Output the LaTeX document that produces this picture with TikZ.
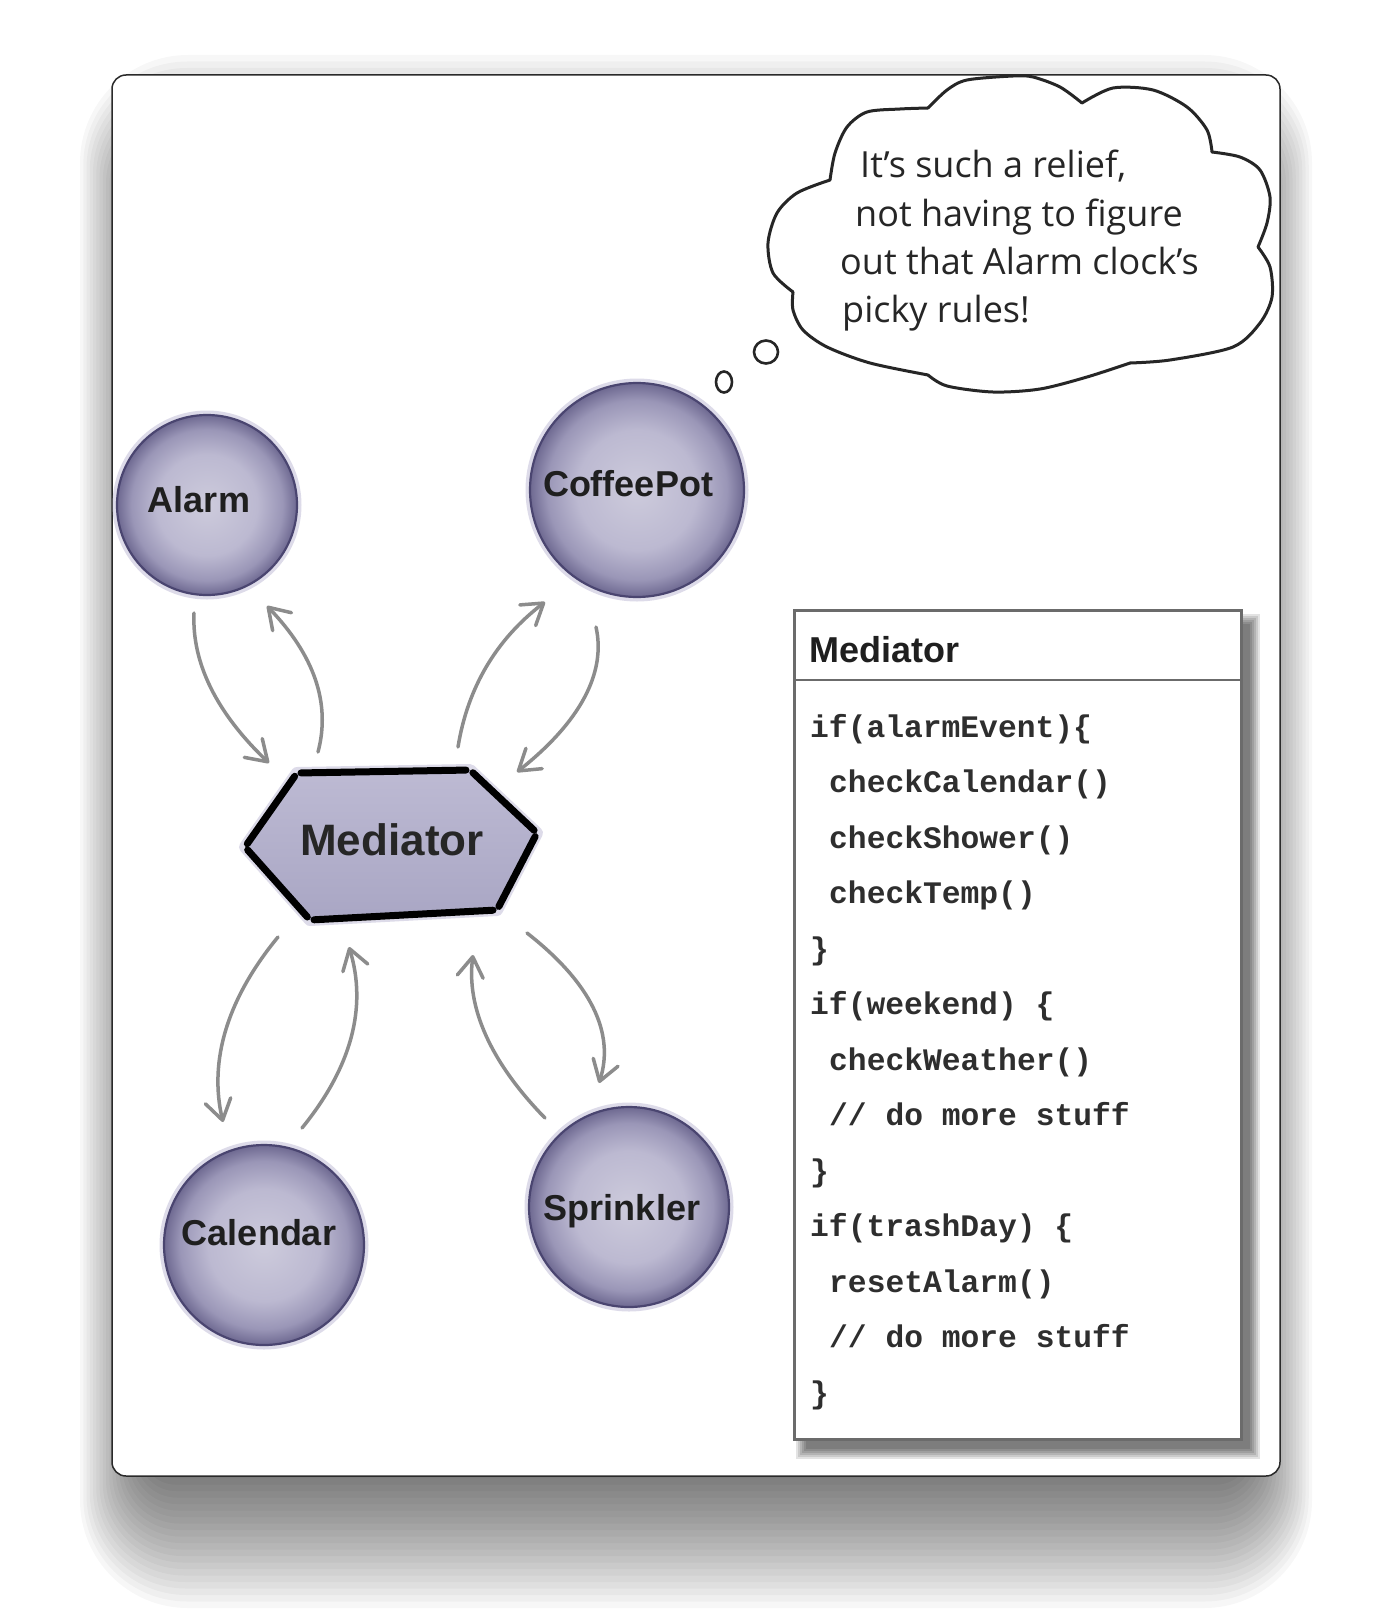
\documentclass[tikz,border=0pt]{standalone}
\usepackage{fontspec}
\setmainfont{Liberation Sans}
\newfontfamily\monof{Liberation Mono}
\newfontfamily\cloudf{Open Sans}
\usetikzlibrary{arrows.meta,calc}
\definecolor{lavC}{HTML}{CDCBDC}
\definecolor{lavM}{HTML}{BCB9D1}
\definecolor{lavE}{HTML}{9A96B7}
\definecolor{lavO}{HTML}{6E6991}
\definecolor{orbline}{HTML}{4A4570}
\definecolor{halo}{HTML}{CFCCE0}
\definecolor{hexT}{HTML}{BDBAD3}
\definecolor{hexB}{HTML}{A9A6C4}
\definecolor{arrgray}{HTML}{8C8C8C}
\definecolor{boxgray}{HTML}{6B6B6B}
\definecolor{framec}{HTML}{2A2A2A}
\definecolor{codec}{HTML}{2E2E2E}
\pgfdeclareradialshading{lavorb}{\pgfpoint{0bp}{0bp}}{color(0bp)=(lavC); color(14bp)=(lavM); color(21bp)=(lavE); color(25bp)=(lavO); color(50bp)=(lavO)}
\tikzset{
  orb/.style={circle, minimum size=#1, inner sep=0pt, shading=lavorb, draw=orbline, line width=2.2pt,
              preaction={draw=halo, line width=9pt, opacity=0.7}},
  orblabel/.style={font=\bfseries\fontsize{36}{40}\selectfont, text=black!88, inner sep=0pt, anchor=base},
  arr/.style={draw=arrgray, line width=3.5pt, line cap=round,
              -{Straight Barb[length=20pt,width=26pt,line width=3.5pt,round]}},
  cloudline/.style={draw=black!85, line width=3pt, line cap=round, line join=round},
  cloudtext/.style={font=\cloudf\fontsize{36}{40}\selectfont, text=black!85, inner sep=0pt, anchor=base west},
  code/.style={font=\monof\bfseries\fontsize{31.3}{36}\selectfont, text=codec, inner sep=0pt, anchor=base west},
  hexedge/.style={draw=black, line width=7pt, line cap=round, shorten <=4pt, shorten >=4pt}
}
\begin{document}
\begin{tikzpicture}[x=1pt,y=-1pt]
\useasboundingbox (0,0) rectangle (1392,1624);
\fill[white] (0,0) rectangle (1392,1624);
% frame shadow
\foreach \e [evaluate=\e as \rc using 30+0.6*\e, evaluate=\e as \h using 0.5*\e] in {0,6.5,...,130}
  \fill[black,opacity=0.03,rounded corners=\rc pt] ({145-\h},{185-\e}) rectangle ({1247+\h},{1478+\e});
% frame
\draw[draw=framec, line width=1.5pt, fill=white, rounded corners=14pt] (112,75) rectangle (1280,1476);

% ---------- thought cloud ----------
\draw[cloudline] plot[smooth] coordinates {(830,180) (835,153) (847,127) (867,112) (900,109) (928,108)};
\draw[cloudline] plot[smooth] coordinates {(928,108) (947,90) (967,80) (1013,76) (1033,77) (1060,87) (1082,103)};
\draw[cloudline] plot[smooth] coordinates {(1082,103) (1113,88) (1153,90) (1187,107) (1207,130) (1212,152)};
\draw[cloudline] plot[smooth] coordinates {(1212,152) (1240,157) (1260,170) (1270,197) (1267,223) (1258,247)};
\draw[cloudline] plot[smooth] coordinates {(1258,247) (1270,267) (1272,297) (1260,323) (1233,347) (1170,360) (1130,363)};
\draw[cloudline] plot[smooth] coordinates {(1130,363) (1087,377) (1040,389) (993,392) (947,386) (928,375)};
\draw[cloudline] plot[smooth] coordinates {(928,375) (870,363) (827,347) (803,330) (793,310) (793,292)};
\draw[cloudline] plot[smooth] coordinates {(793,292) (773,273) (768,243) (777,213) (797,193) (830,180)};
\draw[cloudline, line width=2.6pt] (724,382) ellipse [x radius=8, y radius=10.5];
\draw[cloudline, line width=2.6pt] (766,352) ellipse [x radius=12, y radius=11.5];
\node[cloudtext] (t1) at (860,178) {It’s such a relief,};
\node[cloudtext] (t2) at (855,226) {not having to figure};
\node[cloudtext] (t3) at (840,274) {out that Alarm clock’s};
\node[cloudtext] (t4) at (842,322) {picky rules!};

% ---------- colleague circles ----------
\node[orb=180pt] (alarm) at (207,505) {};
\node[orblabel] (alarmL) at (199,512) {Alarm};
\node[orb=214pt] (coffee) at (637,490) {};
\node[orblabel] (coffeeL) at (628,496) {CoffeePot};
\node[orb=200pt] (calendar) at (264,1245) {};
\node[orblabel] (calendarL) at (259,1245) {Calendar};
\node[orb=200pt] (sprinkler) at (629,1207) {};
\node[orblabel] (sprinklerL) at (622,1220) {Sprinkler};

% ---------- mediator hexagon ----------
\coordinate (hL)  at (245,847);
\coordinate (hUL) at (297,773);
\coordinate (hUR) at (470,770);
\coordinate (hR)  at (537,833);
\coordinate (hLR) at (497,910);
\coordinate (hLL) at (310,920);
\draw[halo, line width=12pt, line join=round, opacity=0.7] (hL) -- (hUL) -- (hUR) -- (hR) -- (hLR) -- (hLL) -- cycle;
\shade[top color=hexT, bottom color=hexB] (hL) -- (hUL) -- (hUR) -- (hR) -- (hLR) -- (hLL) -- cycle;
\draw[hexedge] (hL) -- (hUL);
\draw[hexedge] (hUL) -- (hUR);
\draw[hexedge] (hUR) -- (hR);
\draw[hexedge] (hR) -- (hLR);
\draw[hexedge] (hLR) -- (hLL);
\draw[hexedge] (hLL) -- (hL);
\node[font=\bfseries\fontsize{44}{48}\selectfont, text=black!85, inner sep=0pt, anchor=base] (med) at (392,855) {Mediator};

% ---------- arrows ----------
\coordinate (a1s) at (194,613); \coordinate (a1e) at (269,763);
\coordinate (a2s) at (318,752); \coordinate (a2e) at (267,606);
\coordinate (a3s) at (458,747); \coordinate (a3e) at (545,602);
\coordinate (a4s) at (596,627); \coordinate (a4e) at (517,772);
\coordinate (a5s) at (278,937); \coordinate (a5e) at (223,1122);
\coordinate (a6s) at (302,1128); \coordinate (a6e) at (349,947);
\coordinate (a7s) at (545,1118); \coordinate (a7e) at (473,955);
\coordinate (a8s) at (527,933); \coordinate (a8e) at (599,1083);
\draw[arr] (a1s) .. controls (191.7,663) and (216.7,713) .. (a1e);
\draw[arr] (a2s) .. controls (331,703) and (314,655) .. (a2e);
\draw[arr] (a3s) .. controls (467.7,687) and (496.7,639) .. (a3e);
\draw[arr] (a4s) .. controls (606.3,673) and (580,722) .. (a4e);
\draw[arr] (a5s) .. controls (227,999) and (208.7,1061) .. (a5e);
\draw[arr] (a6s) .. controls (351.7,1067) and (367.3,1007) .. (a6e);
\draw[arr] (a7s) .. controls (490.3,1062) and (466.3,1007) .. (a7e);
\draw[arr] (a8s) .. controls (591,983) and (615,1033) .. (a8e);

% ---------- Mediator class box ----------
\foreach \e in {0,2,...,10}
  \fill[black,opacity=0.11] ({806-\e},{624-\e}) rectangle ({1250+\e},{1449+\e});
\node[draw=boxgray, fill=white, line width=2.5pt, minimum width=447pt, minimum height=829pt, inner sep=0pt, anchor=north west] (mbox) at (793,609) {};
\draw[draw=boxgray, line width=2.5pt] (mbox.west |- 0,680) -- (mbox.east |- 0,680);
\node[font=\bfseries\fontsize{36}{40}\selectfont, text=black!88, inner sep=0pt, anchor=base west] (mtitle) at (809,662) {Mediator};
\node[code] (c1)  at (810,737)   {if(alarmEvent)\{};
\node[code] (c2)  at (829,792.5) {checkCalendar()};
\node[code] (c3)  at (829,848)   {checkShower()};
\node[code] (c4)  at (829,903.5) {checkTemp()};
\node[code] (c5)  at (810,959)   {\}};
\node[code] (c6)  at (810,1014.5){if(weekend) \{};
\node[code] (c7)  at (829,1070)  {checkWeather()};
\node[code] (c8)  at (829,1125.5){// do more stuff};
\node[code] (c9)  at (810,1181)  {\}};
\node[code] (c10) at (810,1236.5){if(trashDay) \{};
\node[code] (c11) at (829,1292)  {resetAlarm()};
\node[code] (c12) at (829,1347.5){// do more stuff};
\node[code] (c13) at (810,1403)  {\}};
\end{tikzpicture}
\end{document}
